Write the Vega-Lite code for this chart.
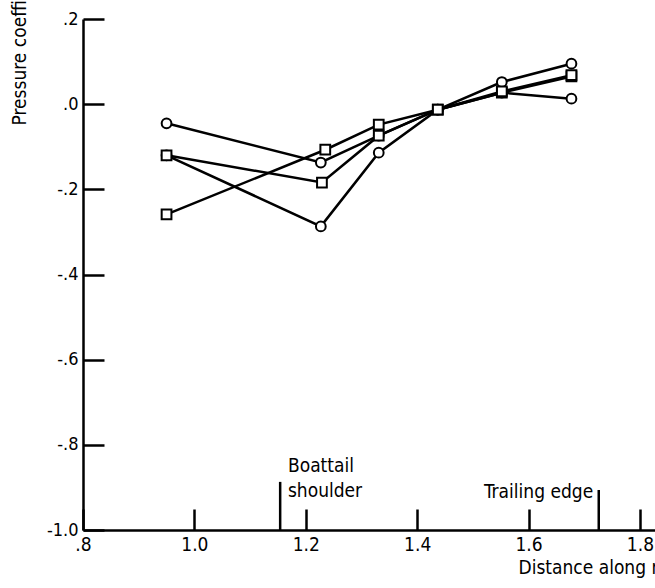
{
  "$schema": "https://vega.github.io/schema/vega-lite/v6.json",
  "autosize": {"type": "none"},
  "padding": {"left": 83, "top": 19, "right": 0, "bottom": 58},
  "width": 572,
  "height": 511,
  "background": "white",
  "config": {
    "view": {"stroke": null},
    "font": "DejaVu Sans Condensed",
    "axis": {
      "domainColor": "black",
      "domainWidth": 2.5,
      "tickColor": "black",
      "tickWidth": 2.5,
      "tickSize": -21,
      "grid": false,
      "labelColor": "black",
      "titleColor": "black",
      "labelFont": "DejaVu Sans Condensed",
      "titleFont": "DejaVu Sans Condensed",
      "titleFontWeight": "normal"
    }
  },
  "datasets": {
    "runs": [
      {"run": "A", "marker": "circle", "x": 0.95, "cp": -0.045},
      {"run": "A", "marker": "circle", "x": 1.227, "cp": -0.137},
      {"run": "A", "marker": "circle", "x": 1.331, "cp": -0.074},
      {"run": "A", "marker": "circle", "x": 1.437, "cp": -0.013},
      {"run": "A", "marker": "circle", "x": 1.552, "cp": 0.052},
      {"run": "A", "marker": "circle", "x": 1.677, "cp": 0.095},
      {"run": "B", "marker": "circle", "x": 0.95, "cp": -0.12},
      {"run": "B", "marker": "circle", "x": 1.227, "cp": -0.287},
      {"run": "B", "marker": "circle", "x": 1.331, "cp": -0.114},
      {"run": "B", "marker": "circle", "x": 1.437, "cp": -0.013},
      {"run": "B", "marker": "circle", "x": 1.552, "cp": 0.027},
      {"run": "B", "marker": "circle", "x": 1.677, "cp": 0.013},
      {"run": "C", "marker": "square", "x": 0.95, "cp": -0.12},
      {"run": "C", "marker": "square", "x": 1.229, "cp": -0.184},
      {"run": "C", "marker": "square", "x": 1.331, "cp": -0.074},
      {"run": "C", "marker": "square", "x": 1.437, "cp": -0.013},
      {"run": "C", "marker": "square", "x": 1.552, "cp": 0.027},
      {"run": "C", "marker": "square", "x": 1.677, "cp": 0.065},
      {"run": "D", "marker": "square", "x": 0.95, "cp": -0.259},
      {"run": "D", "marker": "square", "x": 1.235, "cp": -0.107},
      {"run": "D", "marker": "square", "x": 1.331, "cp": -0.048},
      {"run": "D", "marker": "square", "x": 1.437, "cp": -0.013},
      {"run": "D", "marker": "square", "x": 1.552, "cp": 0.03},
      {"run": "D", "marker": "square", "x": 1.677, "cp": 0.068}
    ],
    "stations": [
      {"name": "Boattail shoulder", "x": 1.154, "y0": -1.0, "y1": -0.887, "tx": 1.168, "ty": -0.864, "lines": ["Boattail", "shoulder"]},
      {"name": "Trailing edge", "x": 1.726, "y0": -1.0, "y1": -0.906, "tx": 1.716, "ty": -0.925, "lines": ["Trailing edge"]}
    ]
  },
  "encoding": {
    "x": {
      "type": "quantitative",
      "scale": {"domain": [0.8, 1.827], "nice": false, "zero": false},
      "axis": {
        "values": [0.8, 1.0, 1.2, 1.4, 1.6, 1.8],
        "labelExpr": "replace(format(datum.value, '.1f'), '0.', '.')",
        "labelFontSize": 19,
        "labelPadding": 26,
        "labelFlush": false,
        "title": "Distance along nozzle, x/d",
        "titleFontSize": 19,
        "titleAlign": "left",
        "titleBaseline": "alphabetic",
        "titleX": 435,
        "titleY": 43
      }
    },
    "y": {
      "type": "quantitative",
      "scale": {"domain": [-1.0, 0.2], "nice": false, "zero": false},
      "axis": {
        "values": [-1.0, -0.8, -0.6, -0.4, -0.2, 0.0, 0.2],
        "labelExpr": "replace(replace(format(datum.value, '.1f'), '0.', '.'), '\u2212', '-')",
        "labelFontSize": 18,
        "labelPadding": 26,
        "labelFlush": false,
        "title": "Pressure coefficient, Cp",
        "titleFontSize": 19,
        "titleAlign": "left",
        "titleBaseline": "alphabetic",
        "titleX": -58,
        "titleY": 106
      }
    }
  },
  "layer": [
    {
      "data": {"name": "stations"},
      "mark": {"type": "rule", "color": "black", "strokeWidth": 2.5},
      "encoding": {
        "x": {"field": "x"},
        "y": {"field": "y0"},
        "y2": {"field": "y1"}
      }
    },
    {
      "data": {"name": "stations"},
      "transform": [{"filter": "datum.name === 'Boattail shoulder'"}],
      "mark": {"type": "text", "color": "black", "fontSize": 19, "align": "left", "baseline": "alphabetic", "lineHeight": 25},
      "encoding": {
        "x": {"field": "tx"},
        "y": {"field": "ty"},
        "text": {"field": "lines"}
      }
    },
    {
      "data": {"name": "stations"},
      "transform": [{"filter": "datum.name === 'Trailing edge'"}],
      "mark": {"type": "text", "color": "black", "fontSize": 19, "align": "right", "baseline": "alphabetic"},
      "encoding": {
        "x": {"field": "tx"},
        "y": {"field": "ty"},
        "text": {"field": "lines"}
      }
    },
    {
      "data": {"name": "runs"},
      "mark": {"type": "line", "color": "black", "strokeWidth": 2.5, "interpolate": "linear"},
      "encoding": {
        "x": {"field": "x"},
        "y": {"field": "cp"},
        "detail": {"field": "run", "type": "nominal"}
      }
    },
    {
      "data": {"name": "runs"},
      "mark": {"type": "point", "filled": false, "fill": "white", "fillOpacity": 1, "stroke": "black", "strokeWidth": 2, "opacity": 1, "size": 95},
      "encoding": {
        "x": {"field": "x"},
        "y": {"field": "cp"},
        "shape": {"field": "marker", "type": "nominal", "scale": {"domain": ["circle", "square"], "range": ["circle", "square"]}, "legend": null}
      }
    }
  ]
}
